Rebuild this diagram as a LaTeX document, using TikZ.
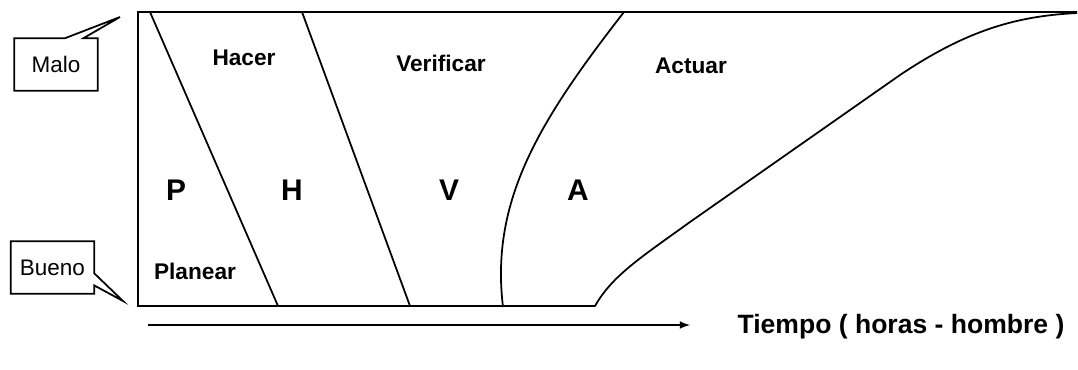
\documentclass[tikz,border=0pt]{standalone}
\usepackage{fontspec}
\setmainfont{Liberation Sans}
\usetikzlibrary{calc}

\begin{document}
\begin{tikzpicture}[x=0.02cm, y=-0.02cm, line width=1pt,
    every node/.style={font=\bfseries\fontsize{12.9}{15}\selectfont},
    letra/.style={font=\bfseries\fontsize{17}{20}\selectfont},
    globo/.style={font=\fontsize{12.8}{15}\selectfont, inner sep=0pt,
      minimum width=46.5pt, minimum height=29pt}]
  \useasboundingbox (0,0) rectangle (1078,369);
  % marco y curva de Actuar
  \draw (1077,12) -- (138,12) -- (138,306) -- (595,306)
    .. controls (612,276) and (640,258) .. (690,222) -- (900,75)
    .. controls (970,28) and (1020,16) .. (1077,13);
  \draw (150,12) -- (278,306);
  \draw (302,12) -- (410,306);
  \draw (624,12) .. controls (540,120) and (490,200) .. (503,307);

  % fases
  \foreach \n/\x/\y/\lab in {hacer/244/58/Hacer, verificar/441/63/Verificar,
      actuar/691/66/Actuar, planear/195/271/Planear}
    \node (\n) at (\x,\y) {\lab};
  \foreach \n/\x/\lab in {p/176/P, h/292/H, v/449/V, a/578/A}
    \node[letra] (\n) at (\x,190) {\lab};

  % globos
  \node[globo] (malo) at (56,64.5) {Malo};
  \node[globo] (bueno) at (52.5,267.5) {Bueno};
  \coordinate (maloTip) at (120,17);
  \coordinate (buenoTip) at (123,301);
  \draw (malo.north west) -- ($(malo.north west)!.61!(malo.north east)$)
    -- (maloTip) -- ($(malo.north west)!.83!(malo.north east)$)
    -- (malo.north east) -- (malo.south east) -- (malo.south west) -- cycle;
  \draw (bueno.north west) -- (bueno.north east)
    -- ($(bueno.north east)!.61!(bueno.south east)$) -- (buenoTip)
    -- ($(bueno.north east)!.84!(bueno.south east)$)
    -- (bueno.south east) -- (bueno.south west) -- cycle;

  % eje de tiempo
  \coordinate (t0) at (148,325);
  \node[font=\bfseries\fontsize{15.1}{18}\selectfont] (tiempo) at (901,327)
    {Tiempo ( horas - hombre )};
  \draw[->, >=latex] (t0) -- (690,325);
\end{tikzpicture}
\end{document}
